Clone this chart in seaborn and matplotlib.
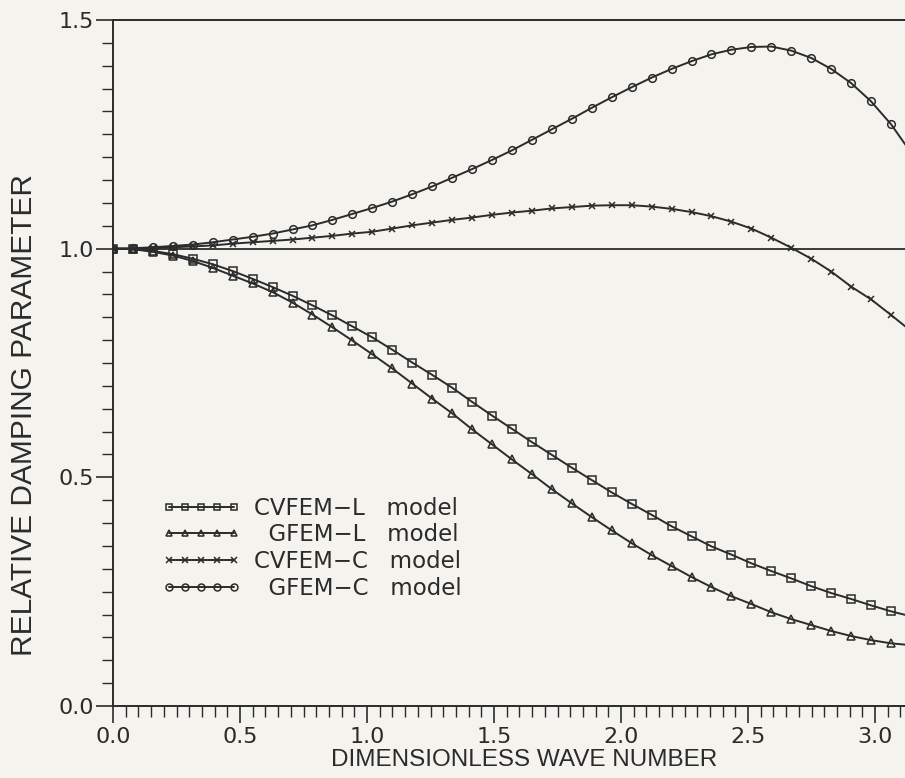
import numpy as np
import pandas as pd
import seaborn as sns
import matplotlib.pyplot as plt
from matplotlib.ticker import MultipleLocator

# wave number samples (markers are every pi/40)
wave_number = np.arange(41) * np.pi / 40

cvfem_l = [1.000, 0.999, 0.995, 0.988, 0.978, 0.966, 0.951, 0.934, 0.916, 0.897,
           0.876, 0.854, 0.830, 0.806, 0.779, 0.751, 0.724, 0.696, 0.665, 0.635,
           0.606, 0.577, 0.549, 0.521, 0.494, 0.467, 0.442, 0.418, 0.393, 0.371,
           0.349, 0.331, 0.312, 0.295, 0.279, 0.262, 0.247, 0.234, 0.220, 0.207,
           0.196]
gfem_l = [1.000, 0.999, 0.993, 0.985, 0.973, 0.958, 0.941, 0.924, 0.905, 0.882,
          0.856, 0.828, 0.799, 0.769, 0.738, 0.705, 0.672, 0.640, 0.605, 0.572,
          0.539, 0.507, 0.474, 0.443, 0.413, 0.384, 0.356, 0.330, 0.306, 0.282,
          0.260, 0.240, 0.223, 0.205, 0.190, 0.177, 0.164, 0.153, 0.144, 0.137,
          0.133]
cvfem_c = [1.000, 1.000, 1.001, 1.003, 1.005, 1.007, 1.011, 1.014, 1.017, 1.020,
           1.024, 1.028, 1.033, 1.037, 1.044, 1.051, 1.057, 1.063, 1.068, 1.074,
           1.079, 1.083, 1.088, 1.091, 1.094, 1.095, 1.095, 1.092, 1.087, 1.080,
           1.071, 1.059, 1.044, 1.024, 1.002, 0.978, 0.950, 0.917, 0.889, 0.855,
           0.820]
gfem_c = [1.000, 1.001, 1.003, 1.006, 1.009, 1.014, 1.020, 1.026, 1.033, 1.042,
          1.051, 1.063, 1.076, 1.089, 1.103, 1.119, 1.136, 1.155, 1.174, 1.194,
          1.215, 1.238, 1.261, 1.284, 1.308, 1.331, 1.353, 1.374, 1.393, 1.410,
          1.425, 1.435, 1.441, 1.442, 1.433, 1.417, 1.393, 1.362, 1.322, 1.272,
          1.210]

series = [
    ("CVFEM\u2212L   model", cvfem_l, "s"),
    ("  GFEM\u2212L   model", gfem_l, "^"),
    ("CVFEM\u2212C   model", cvfem_c, "x"),
    ("  GFEM\u2212C   model", gfem_c, "o"),
]

paper = "#f4f3ee"
ink = "#2b2b2b"

sns.set_style("ticks")
plt.rcParams['font.family'] = ['DejaVu Sans']
plt.rcParams['axes.edgecolor'] = ink
plt.rcParams['xtick.color'] = ink
plt.rcParams['ytick.color'] = ink
plt.rcParams['text.color'] = ink
plt.rcParams['axes.labelcolor'] = ink

fig = plt.figure(figsize=(9.05, 7.78), dpi=100, facecolor=paper)
ax = fig.add_axes([113 / 905, 72 / 778, 1 - 113 / 905, 686 / 778])
ax.set_facecolor(paper)

for name, vals, mk in series:
    df = pd.DataFrame({"k": wave_number, "d": vals})
    sns.lineplot(data=df, x="k", y="d", ax=ax, color=ink, linewidth=1.4,
                 marker=mk, markersize=5.5 if mk != "x" else 4.5,
                 markerfacecolor="none", markeredgecolor=ink,
                 markeredgewidth=1.1, label=name)

ax.axhline(1.0, color=ink, linewidth=1.3, zorder=1)

ax.set_xlim(0, 3.118)
ax.set_ylim(0, 1.5)
ax.xaxis.set_major_locator(MultipleLocator(0.5))
ax.xaxis.set_minor_locator(MultipleLocator(0.05))
ax.yaxis.set_major_locator(MultipleLocator(0.5))
ax.yaxis.set_minor_locator(MultipleLocator(0.05))
ax.xaxis.set_major_formatter(lambda v, p: f"{v:.1f}")
ax.yaxis.set_major_formatter(lambda v, p: f"{v:.1f}")
ax.tick_params(which="major", length=12, width=1.2, labelsize=16)
ax.tick_params(axis="y", which="major", pad=2)
ax.tick_params(axis="x", which="major", pad=3)
ax.tick_params(which="minor", length=8, width=1.0)
ax.tick_params(axis="x", which="both", top=False)
ax.tick_params(axis="y", which="both", right=False)

for side in ["left", "bottom", "top"]:
    ax.spines[side].set_linewidth(1.4)
ax.spines["right"].set_visible(False)

ax.set_xlabel("DIMENSIONLESS WAVE NUMBER", fontsize=17.5, labelpad=0,
              family="Liberation Sans")
ax.xaxis.set_label_coords(0.519, -0.063)
ax.set_ylabel("RELATIVE DAMPING PARAMETER", fontsize=21.5,
              family="Liberation Sans")
ax.yaxis.set_label_coords(-0.095, 0.424)

leg = ax.legend(loc="upper left", bbox_to_anchor=(0.048, 0.322), frameon=False,
                prop={"family": "DejaVu Sans", "size": 16.5}, numpoints=5,
                handlelength=3.4, handletextpad=0.6,
                labelspacing=0.17, borderpad=0)
for h in leg.legend_handles:
    h.set_markersize(5)

fig.savefig("out.png", dpi=100, facecolor=paper)
